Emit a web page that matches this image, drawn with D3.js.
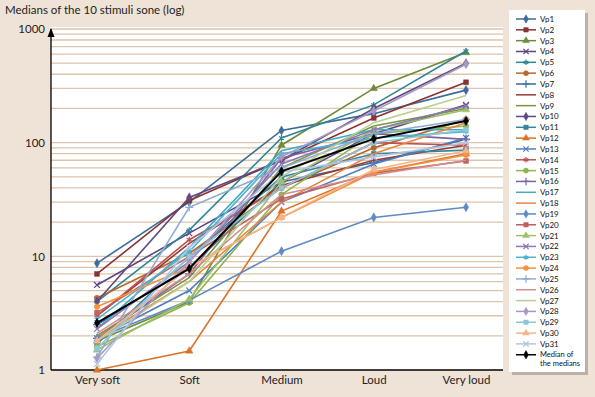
<!DOCTYPE html>
<html>
<head>
<meta charset="utf-8">
<script src="https://cdn.jsdelivr.net/npm/d3@7"></script>
<style>
  body { margin: 0; background: #efe3d7; }
  text { font-family: Lato, "Open Sans", sans-serif; }
</style>
</head>
<body>
<svg id="chart" width="595" height="397"></svg>
<script>
// Categories and tick labels
var categories = ["Very soft", "Soft", "Medium", "Loud", "Very loud"];
var yTicks = [1, 10, 100, 1000];

// Series names, colours and marker types
var names = ["Vp1","Vp2","Vp3","Vp4","Vp5","Vp6","Vp7","Vp8","Vp9","Vp10",
  "Vp11","Vp12","Vp13","Vp14","Vp15","Vp16","Vp17","Vp18","Vp19","Vp20",
  "Vp21","Vp22","Vp23","Vp24","Vp25","Vp26","Vp27","Vp28","Vp29","Vp30","Vp31","Median of the medians"];
var colors = ["#3c6a9b","#8b3232","#6e8a3a","#5c4586","#2f8598","#b8672c","#3b6aa0","#943a38","#79973f","#5e4a80",
  "#33879c","#d8752a","#4f7fbd","#c0504d","#8db44e","#7a62a0","#3eaac8","#e8853f","#5f8ac6","#c06060",
  "#9cc06a","#8a7ab0","#52b3cf","#f5913f","#8eabd4","#d48e8c","#b7cf90","#a898c4","#8fc6d8","#f6b48a","#b0c6e2","#000000"];
var markers = ["diamond","square","triangle","x","star","circle","plus","none","none","diamond",
  "square","triangle","x","star","circle","plus","none","none","diamond","square",
  "triangle","x","star","circle","plus","none","none","diamond","square","triangle","x","diamond"];

// Values (sone), one row per series
var vp1  = [8.7, 30, 128, 180, 290];
var vp2  = [7.0, 31, 70, 165, 340];
var vp3  = [1.8, 4.0, 95, 300, 620];
var vp4  = [5.6, 16, 45, 120, 215];
var vp5  = [4.0, 17, 110, 215, 640];
var vp6  = [4.3, 10.6, 40, 90, 160];
var vp7  = [2.5, 8, 45, 67, 107];
var vp8  = [3.0, 13, 42, 70, 95];
var vp9  = [2.0, 6.5, 60, 140, 200];
var vp10 = [4.0, 33, 70, 200, 500];
var vp11 = [1.7, 9.9, 50, 80, 86];
var vp12 = [1.0, 1.47, 25, 55, 80];
var vp13 = [1.9, 5.0, 30, 65, 110];
var vp14 = [3.0, 14, 40, 100, 95];
var vp15 = [1.6, 3.9, 35, 120, 140];
var vp16 = [1.9, 7, 73, 120, 107];
var vp17 = [2.3, 12, 85, 130, 130];
var vp18 = [1.9, 6, 30, 80, 150];
var vp19 = [1.9, 4.1, 11.1, 22, 27];
var vp20 = [3.2, 10, 32, 54, 69];
var vp21 = [1.5, 4.2, 45, 130, 195];
var vp22 = [2.3, 9, 65, 130, 210];
var vp23 = [2.8, 11, 80, 110, 125];
var vp24 = [3.6, 8, 22, 55, 78];
var vp25 = [1.3, 27, 60, 120, 160];
var vp26 = [2.1, 7, 35, 52, 70];
var vp27 = [1.8, 6, 50, 150, 260];
var vp28 = [1.27, 9, 75, 190, 490];
var vp29 = [1.55, 10, 40, 100, 130];
var vp30 = [1.8, 8, 22, 58, 85];
var vp31 = [1.13, 12, 55, 75, 100];
var median = [2.6, 7.8, 56, 108, 155];

var series = [vp1,vp2,vp3,vp4,vp5,vp6,vp7,vp8,vp9,vp10,vp11,vp12,vp13,vp14,vp15,vp16,
  vp17,vp18,vp19,vp20,vp21,vp22,vp23,vp24,vp25,vp26,vp27,vp28,vp29,vp30,vp31,median];

var svg = d3.select("#chart");

// Plot area
var margin = { top: 29, left: 51, right: 92, bottom: 27 };
var width = 595 - margin.left - margin.right;   // 452
var height = 397 - margin.top - margin.bottom;  // 341

var xScale = d3.scalePoint()
  .domain(categories)
  .range([margin.left + 46, margin.left + 415]);

var yScale = d3.scaleLog()
  .domain([1, 1000])
  .range([margin.top + height, margin.top]);

// White background of the plot
svg.append("rect")
  .attr("x", margin.left).attr("y", margin.top - 2)
  .attr("width", width).attr("height", height + 2)
  .attr("fill", "#ffffff");

// Gridlines (major and minor)
var gridVals = [];
[1, 10, 100].forEach(function (d) {
  for (var k = 1; k < 10; k++) gridVals.push(d * k);
});
gridVals.push(1000);

svg.append("g")
  .selectAll("line")
  .data(gridVals.filter(d => d > 1))
  .enter()
  .append("line")
  .attr("x1", margin.left)
  .attr("x2", margin.left + width)
  .attr("y1", d => yScale(d))
  .attr("y2", d => yScale(d))
  .attr("stroke", "#dcc5aa")
  .attr("stroke-width", 1.3);

// Y axis
var yAxis = d3.axisLeft(yScale)
  .tickValues(yTicks)
  .tickFormat(d3.format("d"))
  .tickSize(0)
  .tickPadding(6);

var yG = svg.append("g")
  .attr("transform", "translate(" + margin.left + ",0)")
  .call(yAxis);
yG.select(".domain").remove();
yG.selectAll("text").attr("font-size", 11.5).attr("fill", "#222");

svg.append("line")
  .attr("x1", margin.left).attr("x2", margin.left)
  .attr("y1", margin.top).attr("y2", margin.top + height)
  .attr("stroke", "#000").attr("stroke-width", 1.3);
svg.append("path")
  .attr("d", "M" + margin.left + "," + (margin.top - 1) + " l-3.5,9 h7 z")
  .attr("fill", "#000");

// X axis
var xAxis = d3.axisBottom(xScale).tickSize(0).tickPadding(6);
var xG = svg.append("g")
  .attr("transform", "translate(0," + (margin.top + height) + ")")
  .call(xAxis);
xG.select(".domain").remove();
xG.selectAll("text").attr("font-size", 11.5).attr("fill", "#222");

svg.append("line")
  .attr("x1", margin.left).attr("x2", margin.left + width)
  .attr("y1", margin.top + height).attr("y2", margin.top + height)
  .attr("stroke", "#000").attr("stroke-width", 1.3);

// Title
svg.append("text")
  .attr("x", 5).attr("y", 14)
  .attr("font-size", 11.5)
  .attr("fill", "#222")
  .text("Medians of the 10 stimuli sone (log)");

// Markers
var symbolTypes = {
  diamond: d3.symbolDiamond, square: d3.symbolSquare, triangle: d3.symbolTriangle,
  circle: d3.symbolCircle, x: d3.symbolTimes, plus: d3.symbolPlus, star: d3.symbolAsterisk
};
var strokeSymbols = { x: true, plus: true, star: true };

function drawMarker(g, type, color, x, y, size) {
  if (type === "none") return;
  var sym = d3.symbol().type(symbolTypes[type]).size(size);
  g.append("path")
    .attr("transform", "translate(" + x + "," + y + ")")
    .attr("d", sym())
    .attr("fill", strokeSymbols[type] ? "none" : color)
    .attr("stroke", color)
    .attr("stroke-width", strokeSymbols[type] ? 1.2 : 0.5);
}

var line = d3.line()
  .x((d, i) => xScale(categories[i]))
  .y(d => yScale(d));

var plot = svg.append("g");
series.forEach(function (vals, s) {
  var g = plot.append("g");
  g.append("path")
    .datum(vals)
    .attr("fill", "none")
    .attr("stroke", colors[s])
    .attr("stroke-width", s === 31 ? 2 : 1.6)
    .attr("d", line);
  vals.forEach(function (v, i) {
    drawMarker(g, markers[s], colors[s], xScale(categories[i]), yScale(v), 24);
  });
});

// Legend
var lgX = 509, lgY = 10, lgW = 76, lgH = 362;
svg.append("rect")
  .attr("x", lgX + 3).attr("y", lgY + 3)
  .attr("width", lgW).attr("height", lgH)
  .attr("fill", "#9a9088").attr("opacity", 0.6);
svg.append("rect")
  .attr("x", lgX).attr("y", lgY)
  .attr("width", lgW).attr("height", lgH)
  .attr("fill", "#ffffff");

var step = 10.83;
names.forEach(function (name, s) {
  var y = lgY + 9 + s * step;
  var g = svg.append("g");
  g.append("line")
    .attr("x1", lgX + 7).attr("x2", lgX + 27)
    .attr("y1", y).attr("y2", y)
    .attr("stroke", colors[s]).attr("stroke-width", 1.5);
  drawMarker(g, markers[s], colors[s], lgX + 17, y, 20);
  if (s === 31) {
    g.append("text").attr("x", lgX + 31).attr("y", y + 2)
      .attr("font-size", 7.5).attr("fill", "#111").text("Median of");
    g.append("text").attr("x", lgX + 31).attr("y", y + 11.5)
      .attr("font-size", 7.5).attr("fill", "#111").text("the medians");
  } else {
    g.append("text").attr("x", lgX + 31).attr("y", y + 3)
      .attr("font-size", 8).attr("fill", "#111").text(name);
  }
});
</script>
</body>
</html>
